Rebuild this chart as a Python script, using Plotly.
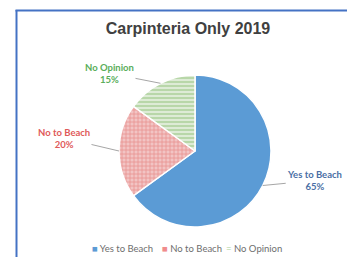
import math
import plotly.graph_objects as go

labels = ["Yes to Beach", "No to Beach", "No Opinion"]
values = [65, 20, 15]
slice_colors = ["#5B9BD5", "#F2C4C4", "#DDEBD6"]
pattern_shapes = ["", "+", "-"]
pattern_fg = ["#5B9BD5", "#E8908F", "#A9CF96"]
label_colors = ["#4A6FA5", "#E05A5A", "#5AAE5A"]
legend_marks = ["■", "■", "="]
legend_mark_colors = ["#5B9BD5", "#F08C8C", "#A9CF96"]

# the page body adds an 8px margin, so the figure sits at (8, 8) in the window
O = 8
W, H = 355 - O, 257 - O
cx, cy, r = 195 - O, 151 - O, 76  # pie centre / radius in figure px
label_offsets = [(52, -5), (-55, -13), (-51, -10)]
legend_x = [90 - O, 160 - O, 224 - O]
legend_y = 248 - O

fig = go.Figure()
fig.add_trace(go.Pie(
    labels=labels, values=values, sort=False, direction="clockwise", rotation=0,
    textinfo="none", hoverinfo="label+percent", showlegend=False,
    marker=dict(colors=slice_colors, line=dict(color="white", width=1.5),
                pattern=dict(shape=pattern_shapes, fgcolor=pattern_fg,
                             bgcolor=slice_colors, size=4, solidity=0.35)),
    domain=dict(x=[(cx - r) / W, (cx + r) / W], y=[(H - cy - r) / H, (H - cy + r) / H]),
))

# labels with leader lines, anchored at the middle of each slice's arc
total = sum(values)
cum = 0
annotations = []
for lab, v, col, (ax, ay) in zip(labels, values, label_colors, label_offsets):
    mid = (cum + v / 2) / total * 2 * math.pi
    cum += v
    px = cx + r * math.sin(mid)
    py = cy - r * math.cos(mid)
    annotations.append(dict(
        x=px / W, y=1 - py / H, xref="paper", yref="paper",
        text=f"<b>{lab}<br>{round(v / total * 100)}%</b>",
        showarrow=True, arrowhead=0, arrowwidth=1, arrowcolor="#A6A6A6",
        ax=ax, ay=ay, font=dict(size=9.5, color=col, family="Lato, Liberation Sans, sans-serif"),
        align="center",
    ))

# legend
for lab, mk, mc, lx in zip(labels, legend_marks, legend_mark_colors, legend_x):
    annotations.append(dict(
        x=lx / W, y=1 - legend_y / H, xref="paper", yref="paper",
        xanchor="left", yanchor="middle", showarrow=False,
        text=f"<span style='color:{mc}'>{mk}</span> {lab}",
        font=dict(size=9.5, color="#6E6E6E", family="Lato, Liberation Sans, sans-serif"),
    ))

fig.update_layout(
    width=W, height=H,
    margin=dict(l=0, r=0, t=0, b=0, autoexpand=False),
    paper_bgcolor="white", plot_bgcolor="white",
    title=dict(text="<b>Carpinteria Only 2019</b>", x=(188 - O) / W, xanchor="center",
               y=1 - (28 - O) / H, yanchor="middle",
               font=dict(size=16, color="#404040", family="Liberation Sans, Arial, sans-serif")),
    showlegend=False,
    annotations=annotations,
    shapes=[
        dict(type="line", xref="paper", yref="paper", x0=(16.5 - O) / W, x1=(16.5 - O) / W,
             y0=0, y1=1 - (10 - O) / H, line=dict(color="#4472C4", width=2)),
        dict(type="line", xref="paper", yref="paper", x0=(15.5 - O) / W, x1=1,
             y0=1 - (10.5 - O) / H, y1=1 - (10.5 - O) / H, line=dict(color="#4472C4", width=2)),
    ],
)

fig.write_html("out.html")
